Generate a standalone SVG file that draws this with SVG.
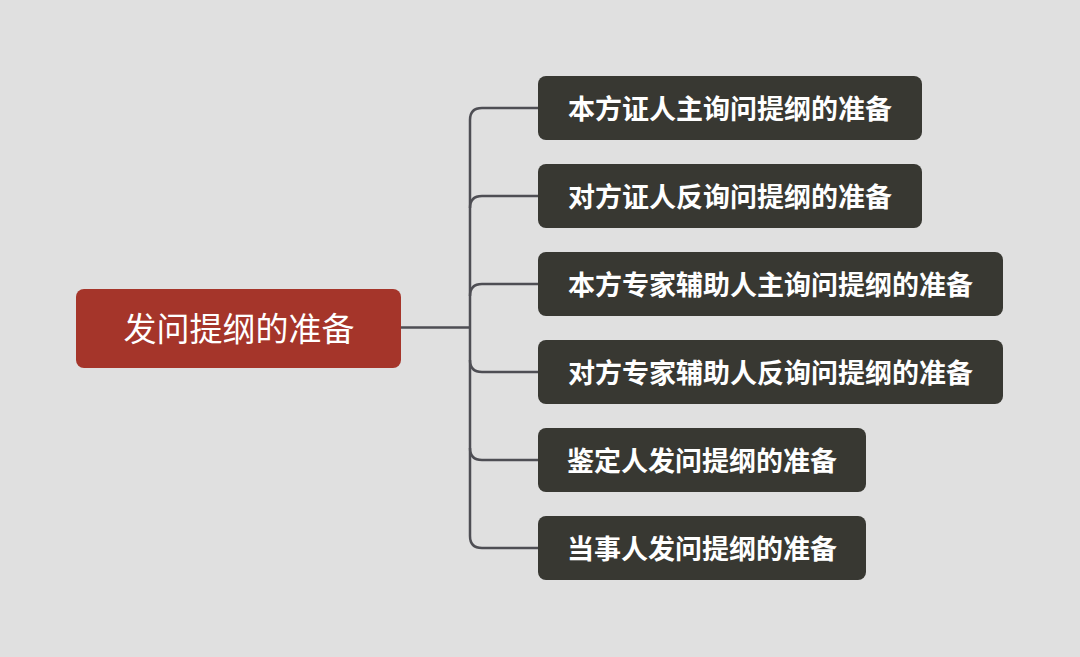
<svg xmlns="http://www.w3.org/2000/svg" width="1080" height="657" viewBox="0 0 1080 657">
<style>
.bg{fill:#e0e0e0}
.root{fill:#a5352a}
.child{fill:#383832}
.rt{font-family:"Noto Sans CJK SC","Noto Sans",sans-serif;font-size:33px;fill:#ffffff;text-anchor:middle;dominant-baseline:central}
.ct{font-family:"Noto Sans CJK SC","Noto Sans",sans-serif;font-size:27px;font-weight:bold;fill:#ffffff;text-anchor:middle;dominant-baseline:central}
.ln{fill:none;stroke:#4e4e54;stroke-width:2.5}
</style>
<rect class="bg" x="0" y="0" width="1080" height="657"/>
<g id="connectors">
<path class="ln" d="M401 327.5 H470"/>
<path class="ln" d="M538 108 H482 Q470 108 470 120 V536 Q470 548 482 548 H538"/>
<path class="ln" d="M538 196 H482 Q470 196 470 208"/>
<path class="ln" d="M538 284 H482 Q470 284 470 296"/>
<path class="ln" d="M538 372 H482 Q470 372 470 360"/>
<path class="ln" d="M538 460 H482 Q470 460 470 448"/>
</g>
<g id="root">
<rect class="root" x="76" y="289" width="325" height="79" rx="8"/>
<text class="rt" x="239" y="327">发问提纲的准备</text>
</g>
<g id="n1">
<rect class="child" x="538" y="76" width="384" height="64" rx="8"/>
<text class="ct" x="730" y="107">本方证人主询问提纲的准备</text>
</g>
<g id="n2">
<rect class="child" x="538" y="164" width="384" height="64" rx="8"/>
<text class="ct" x="730" y="195">对方证人反询问提纲的准备</text>
</g>
<g id="n3">
<rect class="child" x="538" y="252" width="465" height="64" rx="8"/>
<text class="ct" x="770.5" y="283">本方专家辅助人主询问提纲的准备</text>
</g>
<g id="n4">
<rect class="child" x="538" y="340" width="465" height="64" rx="8"/>
<text class="ct" x="770.5" y="371">对方专家辅助人反询问提纲的准备</text>
</g>
<g id="n5">
<rect class="child" x="538" y="428" width="328" height="64" rx="8"/>
<text class="ct" x="702" y="459">鉴定人发问提纲的准备</text>
</g>
<g id="n6">
<rect class="child" x="538" y="516" width="328" height="64" rx="8"/>
<text class="ct" x="702" y="547">当事人发问提纲的准备</text>
</g>
</svg>
